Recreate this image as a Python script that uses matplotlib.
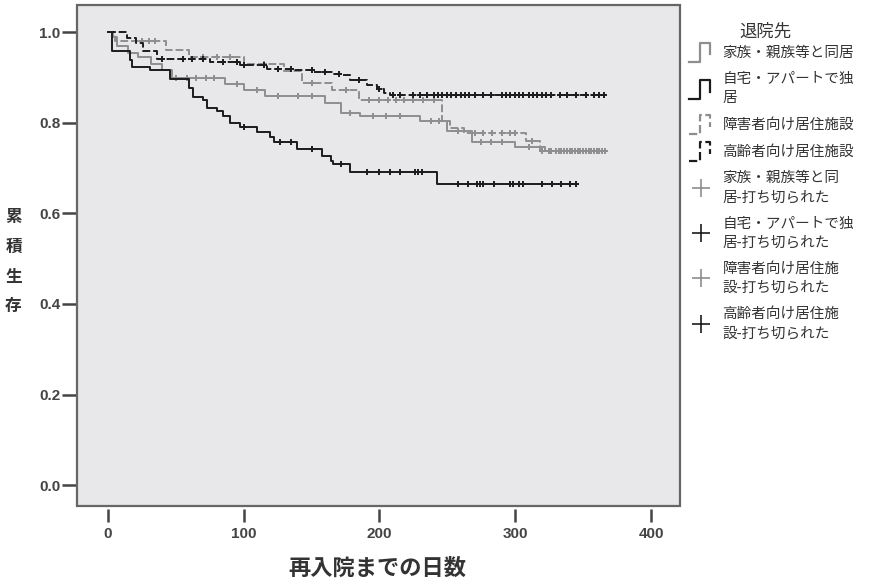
import numpy as np
import matplotlib
matplotlib.use('Agg')
import matplotlib.pyplot as plt
from matplotlib.lines import Line2D
from matplotlib.patches import Rectangle
from matplotlib.legend_handler import HandlerBase

plt.rcParams['font.family'] = ['Noto Sans CJK JP', 'DejaVu Sans']

# survival steps (days, cumulative survival)
fam_t = [0, 4, 7, 15, 22, 32, 40, 47, 86, 100, 116, 160, 172, 186, 230, 250, 268, 300, 322]
fam_s = [1.0, .989, .971, .954, .945, .931, .916, .900, .887, .872, .860, .843, .823, .816, .805, .783, .757, .746, .739]
fam_c = [50, 58, 65, 72, 78, 95, 110, 125, 140, 150, 178, 195, 205, 215, 238, 244, 258,
         275, 282, 290, 310, 325, 330, 334, 338, 342, 346, 350, 354, 358, 362, 366]
fam_end = 367

alone_t = [0, 3, 16, 18, 31, 46, 60, 63, 70, 73, 80, 85, 90, 97, 110, 119, 122, 139, 158, 164, 166, 178, 242]
alone_s = [1.0, .960, .938, .923, .916, .898, .878, .857, .850, .834, .827, .816, .799, .790, .779, .768,
           .757, .743, .728, .717, .710, .692, .666]
alone_c = [100, 127, 135, 150, 172, 191, 200, 208, 215, 226, 228, 231, 258, 265, 272, 274, 276,
           284, 296, 298, 303, 306, 320, 327, 334, 340, 345]
alone_end = 346

dis_t = [0, 5, 43, 60, 100, 130, 143, 165, 185, 246, 252, 262, 308, 318]
dis_s = [1.0, .982, .962, .945, .930, .915, .889, .872, .850, .805, .788, .777, .761, .739]
dis_c = [25, 30, 35, 70, 80, 90, 115, 150, 175, 192, 200, 206, 212, 218, 225, 232, 240, 270, 276,
         283, 290, 296, 300, 312, 320, 326, 332, 336, 340, 344, 348, 352, 356, 360, 364]
dis_end = 367

eld_t = [0, 14, 21, 26, 36, 75, 97, 117, 136, 151, 166, 173, 178, 191, 198, 203, 208]
eld_s = [1.0, .987, .976, .960, .942, .934, .927, .920, .916, .912, .909, .905, .894, .883, .876, .867, .861]
eld_c = [40, 55, 62, 70, 85, 95, 100, 115, 125, 135, 150, 160, 170, 185, 200, 210, 215, 225, 230,
         235, 240, 243, 246, 250, 253, 256, 260, 263, 266, 270, 276, 282, 290, 293, 296, 300, 303,
         306, 310, 313, 316, 320, 323, 326, 333, 338, 345, 352, 358, 362, 365]
eld_end = 367

labels = ['家族・親族等と同居', '自宅・アパートで独\n居', '障害者向け居住施設', '高齢者向け居住施設']
cens_labels = ['家族・親族等と同\n居-打ち切られた', '自宅・アパートで独\n居-打ち切られた',
               '障害者向け居住施\n設-打ち切られた', '高齢者向け居住施\n設-打ち切られた']

series = [
    (fam_t, fam_s, fam_c, fam_end, '#8e8e8e', '-'),
    (alone_t, alone_s, alone_c, alone_end, '#1c1c1c', '-'),
    (dis_t, dis_s, dis_c, dis_end, '#8e8e8e', (0, (4, 1.5))),
    (eld_t, eld_s, eld_c, eld_end, '#1c1c1c', (0, (4, 1.5))),
]


class StepHandler(HandlerBase):
    def create_artists(self, legend, orig_handle, xdescent, ydescent, width, height, fontsize, trans):
        x0, y0 = -xdescent, -ydescent
        lo = y0 - 0.25 * height
        hi = y0 + 1.2 * height
        xs = [x0, x0 + 0.45 * width, x0 + 0.45 * width, x0 + 0.85 * width, x0 + 0.85 * width]
        ys = [lo, lo, hi, hi, y0 + 0.3 * height]
        ln = Line2D(xs, ys, color=orig_handle.get_color(), linestyle=orig_handle.get_linestyle(),
                    linewidth=orig_handle.get_linewidth(), transform=trans)
        return [ln]


fig = plt.figure(figsize=(8.83, 5.84), dpi=100)
ax = fig.add_axes([0.0872, 0.133, 0.683, 0.858])
ax.set_facecolor('#e8e8eb')

line_handles = []
cens_handles = []
for (t, s, c, end, col, ls) in series:
    t = np.asarray(t, dtype=float)
    s = np.asarray(s, dtype=float)
    tt = np.append(t, end)
    ss = np.append(s, s[-1])
    ax.step(tt, ss, where='post', color=col, lw=1.4, linestyle=ls)
    c = np.asarray(c, dtype=float)
    cy = s[np.searchsorted(t, c, side='right') - 1]
    ax.plot(c, cy, linestyle='none', marker='+', color=col, ms=5, mew=1.4)
    line_handles.append(Line2D([], [], color=col, lw=1.6, linestyle=ls))
    cens_handles.append(Line2D([], [], color=col, linestyle='none', marker='+', ms=13, mew=1.2))

ax.set_xlim(-22.8, 421.4)
ax.set_ylim(-0.047, 1.060)
ax.set_xticks([0, 100, 200, 300, 400])
ax.set_yticks([0.0, 0.2, 0.4, 0.6, 0.8, 1.0])
ax.set_yticklabels(['0.0', '0.2', '0.4', '0.6', '0.8', '1.0'])

for side in ['top', 'right', 'bottom', 'left']:
    ax.spines[side].set_visible(False)
ax.spines['bottom'].set_position(('outward', 2))
ax.add_patch(Rectangle((0, 0), 1, 1, transform=ax.transAxes, fill=False,
                       edgecolor='#666666', lw=1.6, clip_on=False, zorder=5))
ax.tick_params(axis='x', direction='out', length=9, width=1.8, color='#444444',
               labelsize=11, labelcolor='#444444', pad=4)
ax.tick_params(axis='y', direction='out', length=11, width=1.8, color='#444444',
               labelsize=11, labelcolor='#444444', pad=1)
for lab in ax.get_xticklabels() + ax.get_yticklabels():
    lab.set_fontfamily('Liberation Sans')
    lab.set_fontweight('bold')

fig.text(0.0153, 0.552, '累\n積\n生\n存', fontsize=12, fontweight='bold', color='#333333',
         ha='center', va='center', linespacing=1.85)
fig.text(0.427, 0.027, '再入院までの日数', fontsize=16, fontweight='bold', color='#333333',
         ha='center', va='center')

fig.text(765 / 883, 1 - 32 / 584, '退院先', fontsize=12.5, color='#333333', ha='center', va='center')

handles = line_handles + cens_handles
all_labels = labels + cens_labels
hmap = {h: StepHandler() for h in line_handles}
leg = fig.legend(handles, all_labels, loc='upper left', bbox_to_anchor=(0.772, 0.935),
                 frameon=False, fontsize=10.5,
                 handler_map=hmap, handlelength=1.7, handleheight=1.0, handletextpad=0.6,
                 labelspacing=0.85, numpoints=1, borderpad=0.0)
for txt in leg.get_texts():
    txt.set_color('#333333')
    txt.set_linespacing(1.45)

fig.savefig('out.png', dpi=100)
